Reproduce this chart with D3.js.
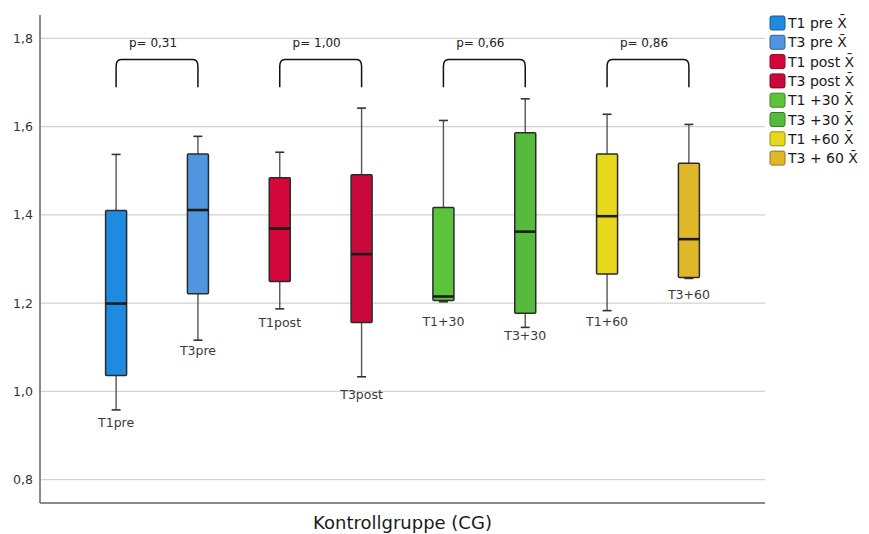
<!DOCTYPE html>
<html>
<head>
<meta charset="utf-8">
<script src="https://cdn.jsdelivr.net/npm/d3@7"></script>
<style>
  html, body { margin: 0; padding: 0; background: #fff; }
  svg { display: block; font-family: "DejaVu Sans", Verdana, sans-serif; }
</style>
</head>
<body>
<svg id="chart" width="869" height="534"></svg>
<script>
// ---- data ----
const categories = ["T1pre", "T3pre", "T1post", "T3post", "T1+30", "T3+30", "T1+60", "T3+60"];
const whiskerLow  = [0.958, 1.116, 1.187, 1.033, 1.203, 1.145, 1.183, 1.256];
const q1Values    = [1.036, 1.221, 1.249, 1.156, 1.206, 1.177, 1.266, 1.258];
const medians     = [1.199, 1.411, 1.369, 1.311, 1.215, 1.362, 1.397, 1.345];
const q3Values    = [1.410, 1.538, 1.484, 1.491, 1.417, 1.586, 1.538, 1.517];
const whiskerHigh = [1.537, 1.578, 1.542, 1.642, 1.614, 1.663, 1.628, 1.605];
const labelAnchor = [0.929, 1.093, 1.156, 0.993, 1.157, 1.127, 1.157, 1.220];
const legendLabels = ["T1 pre X\u0304", "T3 pre X\u0304", "T1 post X\u0304", "T3 post X\u0304",
                      "T1 +30 X\u0304", "T3 +30 X\u0304", "T1 +60 X\u0304", "T3 + 60 X\u0304"];
const colors = ["#1e8be0", "#4f95e0", "#d4073a", "#c9093b", "#5cc43a", "#56bb3c", "#e8d81c", "#dfb82a"];
const pPairs = [[0, 1], [2, 3], [4, 5], [6, 7]];
const pLabels = ["p= 0,31", "p= 1,00", "p= 0,66", "p= 0,86"];
const yTicks = [0.8, 1.0, 1.2, 1.4, 1.6, 1.8];
const xTitle = "Kontrollgruppe (CG)";
const bracketTop = 1.752, bracketBottom = 1.689, pTextValue = 1.789;

// ---- layout ----
const svg = d3.select("#chart");
const mLeft = 40, mRight = 765, mTop = 15, mBottom = 503;

const y = d3.scaleLinear().domain([0.747, 1.853]).range([mBottom, mTop]);
const x = d3.scalePoint().domain(categories).range([mLeft, mRight]).padding(0.93);
const boxW = 21, capW = 9;

// gridlines
svg.append("g").selectAll("line").data(yTicks).join("line")
  .attr("x1", mLeft).attr("x2", mRight)
  .attr("y1", d => y(d)).attr("y2", d => y(d))
  .attr("stroke", "#d2d2d2").attr("stroke-width", 1.2);

// y axis
const fmt = d => d3.format(".1f")(d).replace(".", ",");
const yAxis = svg.append("g").attr("transform", `translate(${mLeft},0)`)
  .call(d3.axisLeft(y).tickValues(yTicks).tickFormat(fmt).tickSize(0).tickPadding(7));
yAxis.select(".domain").remove();
yAxis.selectAll("text").attr("font-size", 12.5).attr("fill", "#333")
  .attr("font-family", "DejaVu Sans, sans-serif");

// axis lines
svg.append("line").attr("x1", mLeft).attr("x2", mLeft).attr("y1", mTop).attr("y2", mBottom)
  .attr("stroke", "#8a8a8a").attr("stroke-width", 2);
svg.append("line").attr("x1", mLeft).attr("x2", mRight).attr("y1", mBottom).attr("y2", mBottom)
  .attr("stroke", "#8a8a8a").attr("stroke-width", 2);

// boxes
const data = categories.map((c, i) => ({
  c, lo: whiskerLow[i], q1: q1Values[i], med: medians[i], q3: q3Values[i], hi: whiskerHigh[i],
  lab: labelAnchor[i], color: colors[i]
}));

const g = svg.append("g").selectAll("g").data(data).join("g");
// whiskers
g.append("line").attr("x1", d => x(d.c)).attr("x2", d => x(d.c))
  .attr("y1", d => y(d.hi)).attr("y2", d => y(d.q3))
  .attr("stroke", "#555").attr("stroke-width", 1.4);
g.append("line").attr("x1", d => x(d.c)).attr("x2", d => x(d.c))
  .attr("y1", d => y(d.q1)).attr("y2", d => y(d.lo))
  .attr("stroke", "#555").attr("stroke-width", 1.4);
// caps
g.append("line").attr("x1", d => x(d.c) - capW / 2).attr("x2", d => x(d.c) + capW / 2)
  .attr("y1", d => y(d.hi)).attr("y2", d => y(d.hi))
  .attr("stroke", "#333").attr("stroke-width", 1.6);
g.append("line").attr("x1", d => x(d.c) - capW / 2).attr("x2", d => x(d.c) + capW / 2)
  .attr("y1", d => y(d.lo)).attr("y2", d => y(d.lo))
  .attr("stroke", "#333").attr("stroke-width", 1.6);
// box
g.append("rect").attr("x", d => x(d.c) - boxW / 2).attr("width", boxW)
  .attr("y", d => y(d.q3)).attr("height", d => y(d.q1) - y(d.q3))
  .attr("fill", d => d.color).attr("stroke", "#2a2a2a").attr("stroke-width", 1.5).attr("rx", 1);
// median
g.append("line").attr("x1", d => x(d.c) - boxW / 2).attr("x2", d => x(d.c) + boxW / 2)
  .attr("y1", d => y(d.med)).attr("y2", d => y(d.med))
  .attr("stroke", "#1c1c1c").attr("stroke-width", 2.6);
// labels
g.append("text").attr("x", d => x(d.c)).attr("y", d => y(d.lab))
  .attr("dy", "0.35em").attr("text-anchor", "middle")
  .attr("font-size", 12.5).attr("fill", "#3a3a3a").text(d => d.c);

// p-value brackets
const br = svg.append("g").selectAll("g").data(pPairs).join("g");
br.append("path").attr("d", p => {
  const x1 = x(categories[p[0]]), x2 = x(categories[p[1]]);
  const yt = y(bracketTop), yb = y(bracketBottom);
  return `M${x1},${yb} L${x1},${yt + 7} Q${x1},${yt} ${x1 + 5},${yt} L${x2 - 5},${yt} Q${x2},${yt} ${x2},${yt + 7} L${x2},${yb}`;
}).attr("fill", "none").attr("stroke", "#111").attr("stroke-width", 1.5);
br.append("text")
  .attr("x", p => (x(categories[p[0]]) + x(categories[p[1]])) / 2 - 4)
  .attr("y", y(pTextValue)).attr("dy", "0.35em").attr("text-anchor", "middle")
  .attr("font-size", 12).attr("fill", "#222")
  .text((p, i) => pLabels[i]);

// x title
svg.append("text").attr("x", (mLeft + mRight) / 2).attr("y", 523).attr("dy", "0.35em")
  .attr("text-anchor", "middle").attr("font-size", 18).attr("fill", "#1a1a1a")
  .attr("font-family", "DejaVu Sans, sans-serif").text(xTitle);

// legend
const leg = svg.append("g").selectAll("g").data(legendLabels).join("g")
  .attr("transform", (d, i) => `translate(770, ${23 + i * 19.3})`);
leg.append("rect").attr("x", 0).attr("y", -7).attr("width", 15).attr("height", 14)
  .attr("rx", 2).attr("fill", (d, i) => colors[i])
  .attr("stroke", (d, i) => d3.color(colors[i]).darker(1.2)).attr("stroke-width", 1);
leg.append("text").attr("x", 18).attr("y", 0).attr("dy", "0.36em")
  .attr("font-size", 14).attr("fill", "#1a1a1a").text(d => d);
</script>
</body>
</html>
